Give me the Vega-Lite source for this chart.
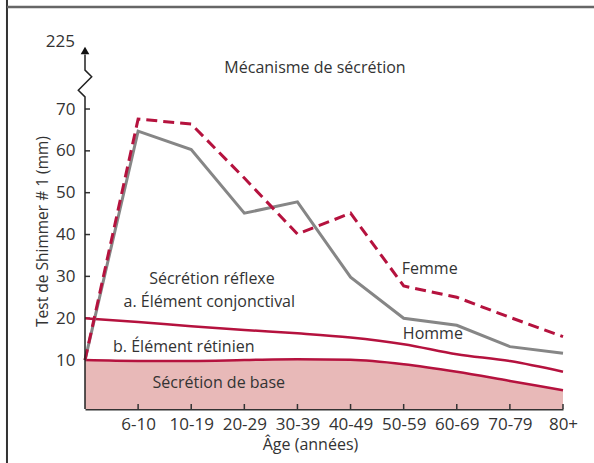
{
  "$schema": "https://vega.github.io/schema/vega-lite/v6.json",
  "width": 478,
  "height": 364,
  "autosize": "none",
  "padding": {"left": 85, "top": 45, "right": 31, "bottom": 54},
  "background": "white",
  "config": {"view": {"stroke": null}, "font": "Open Sans"},
  "encoding": {
    "x": {
      "field": "x", "type": "quantitative",
      "scale": {"domain": [0, 9], "nice": false, "zero": false},
      "axis": {
        "values": [1, 2, 3, 4, 5, 6, 7, 8, 9],
        "labelExpr": "['','6-10','10-19','20-29','30-39','40-49','50-59','60-69','70-79','80+'][datum.value]",
        "title": "Âge (années)",
        "grid": false,
        "domainColor": "#333333", "domainWidth": 2,
        "ticks": false,
        "labelFontSize": 17, "labelColor": "#333333", "labelPadding": 7,
        "labelFlush": false, "labelOverlap": false,
        "titleFontSize": 16, "titleFontWeight": "normal", "titleColor": "#333333",
        "titleX": 225, "titleY": 35, "titleBaseline": "middle", "titleAlign": "center"
      }
    },
    "y": {
      "field": "y", "type": "quantitative",
      "scale": {"domain": [-1.7, 85.3], "nice": false, "zero": false},
      "axis": {
        "values": [10, 20, 30, 40, 50, 60, 70],
        "title": "Test de Shimmer # 1 (mm)",
        "grid": false, "domain": false,
        "ticks": false,
        "labelFontSize": 17, "labelColor": "#333333", "labelPadding": 10,
        "titleFontSize": 15.5, "titleFontWeight": "normal", "titleColor": "#333333",
        "titleX": -43, "titleY": 186, "titleBaseline": "middle", "titleAlign": "center", "titleAngle": -90
      }
    }
  },
  "layer": [
    {
      "data": {"values": [
        {"x": 0, "y": 10.0}, {"x": 1, "y": 9.8}, {"x": 2, "y": 9.8}, {"x": 3, "y": 10.0},
        {"x": 4, "y": 10.2}, {"x": 5, "y": 10.05}, {"x": 6, "y": 9.0}, {"x": 7, "y": 7.2},
        {"x": 8, "y": 5.0}, {"x": 9, "y": 2.8}
      ]},
      "mark": {"type": "area", "interpolate": "monotone", "color": "#e8b9b8"},
      "encoding": {"y2": {"datum": -1.7}}
    },
    {
      "data": {"values": [
        {"x": 1, "y": -1.7, "y2": -0.5}, {"x": 2, "y": -1.7, "y2": -0.5}, {"x": 3, "y": -1.7, "y2": -0.5},
        {"x": 4, "y": -1.7, "y2": -0.5}, {"x": 5, "y": -1.7, "y2": -0.5}, {"x": 6, "y": -1.7, "y2": -0.5},
        {"x": 7, "y": -1.7, "y2": -0.5}, {"x": 8, "y": -1.7, "y2": -0.5}, {"x": 9, "y": -1.7, "y2": -0.5}
      ]},
      "mark": {"type": "rule", "color": "#333333", "strokeWidth": 1.5},
      "encoding": {"y2": {"field": "y2"}}
    },
    {
      "data": {"values": [
        {"x": 0, "x2": 0.094, "y": 10}, {"x": 0, "x2": 0.094, "y": 20}, {"x": 0, "x2": 0.094, "y": 30},
        {"x": 0, "x2": 0.094, "y": 40}, {"x": 0, "x2": 0.094, "y": 50}, {"x": 0, "x2": 0.094, "y": 60},
        {"x": 0, "x2": 0.094, "y": 70}
      ]},
      "mark": {"type": "rule", "color": "#333333", "strokeWidth": 1.5},
      "encoding": {"x2": {"field": "x2"}}
    },
    {
      "data": {"values": [
        {"x": 0, "y": 10.0}, {"x": 1, "y": 9.8}, {"x": 2, "y": 9.8}, {"x": 3, "y": 10.0},
        {"x": 4, "y": 10.2}, {"x": 5, "y": 10.05}, {"x": 6, "y": 9.0}, {"x": 7, "y": 7.2},
        {"x": 8, "y": 5.0}, {"x": 9, "y": 2.8}
      ]},
      "mark": {"type": "line", "interpolate": "monotone", "color": "#b5123e", "strokeWidth": 2.5},
      "encoding": {}
    },
    {
      "data": {"values": [
        {"x": 0, "y": 20.0}, {"x": 1, "y": 19.1}, {"x": 2, "y": 18.1}, {"x": 3, "y": 17.2},
        {"x": 4, "y": 16.4}, {"x": 5, "y": 15.4}, {"x": 6, "y": 13.8}, {"x": 7, "y": 11.4},
        {"x": 8, "y": 9.75}, {"x": 9, "y": 7.2}
      ]},
      "mark": {"type": "line", "interpolate": "monotone", "color": "#b5123e", "strokeWidth": 2.5},
      "encoding": {}
    },
    {
      "data": {"values": [
        {"x": 0, "y": 10.0}, {"x": 1, "y": 64.7}, {"x": 2, "y": 60.3}, {"x": 3, "y": 45.1},
        {"x": 4, "y": 47.8}, {"x": 5, "y": 29.8}, {"x": 6, "y": 20.0}, {"x": 7, "y": 18.3},
        {"x": 8, "y": 13.2}, {"x": 9, "y": 11.6}
      ]},
      "mark": {"type": "line", "color": "#868686", "strokeWidth": 3},
      "encoding": {}
    },
    {
      "data": {"values": [
        {"x": 0, "y": 10.0}, {"x": 1, "y": 67.6}, {"x": 2, "y": 66.4}, {"x": 3, "y": 53.5},
        {"x": 4, "y": 40.1}, {"x": 5, "y": 45.1}, {"x": 6, "y": 27.7}, {"x": 7, "y": 25.0},
        {"x": 8, "y": 20.2}, {"x": 9, "y": 15.6}
      ]},
      "mark": {"type": "line", "color": "#b5123e", "strokeWidth": 3, "strokeDash": [11, 6]},
      "encoding": {}
    },
    {
      "data": {"values": [
        {"i": 0, "x": 0, "y": -1.7}, {"i": 1, "x": 0, "y": 72.9}, {"i": 2, "x": -0.126, "y": 74.5},
        {"i": 3, "x": 0.126, "y": 77.7}, {"i": 4, "x": 0, "y": 79.3}, {"i": 5, "x": 0, "y": 83.0}
      ]},
      "mark": {"type": "line", "color": "#222222", "strokeWidth": 1.5},
      "encoding": {"order": {"field": "i", "type": "quantitative"}}
    },
    {
      "data": {"values": [{"x": 0, "y": 84.0}]},
      "mark": {"type": "point", "shape": "triangle-up", "filled": true, "color": "#111111", "size": 75, "opacity": 1},
      "encoding": {}
    },
    {
      "data": {"values": [{"x": -0.19, "y": 86.1, "label": "225"}]},
      "mark": {"type": "text", "align": "right", "baseline": "middle", "fontSize": 17, "color": "#333333"},
      "encoding": {"text": {"field": "label"}}
    },
    {
      "data": {"values": [
        {"x": 4.33, "y": 79.8, "label": "Mécanisme de sécrétion"},
        {"x": 2.39, "y": 29.4, "label": "Sécrétion réflexe"},
        {"x": 2.34, "y": 23.8, "label": "a. Élément conjonctival"},
        {"x": 1.86, "y": 13.1, "label": "b. Élément rétinien"},
        {"x": 2.52, "y": 4.5, "label": "Sécrétion de base"},
        {"x": 6.49, "y": 31.7, "label": "Femme"},
        {"x": 6.55, "y": 16.3, "label": "Homme"}
      ]},
      "mark": {"type": "text", "align": "center", "baseline": "middle", "fontSize": 16, "color": "#333333"},
      "encoding": {"text": {"field": "label"}}
    },
    {
      "data": {"values": [{"x": -1.469, "y": -14.63, "y2": 96.06}]},
      "mark": {"type": "rule", "color": "#333333", "strokeWidth": 2},
      "encoding": {"y2": {"field": "y2"}}
    },
    {
      "data": {"values": [{"x": -1.469, "x2": 9.6, "y": 94.4}]},
      "mark": {"type": "rule", "color": "#666666", "strokeWidth": 2.5},
      "encoding": {"x2": {"field": "x2"}}
    }
  ]
}
